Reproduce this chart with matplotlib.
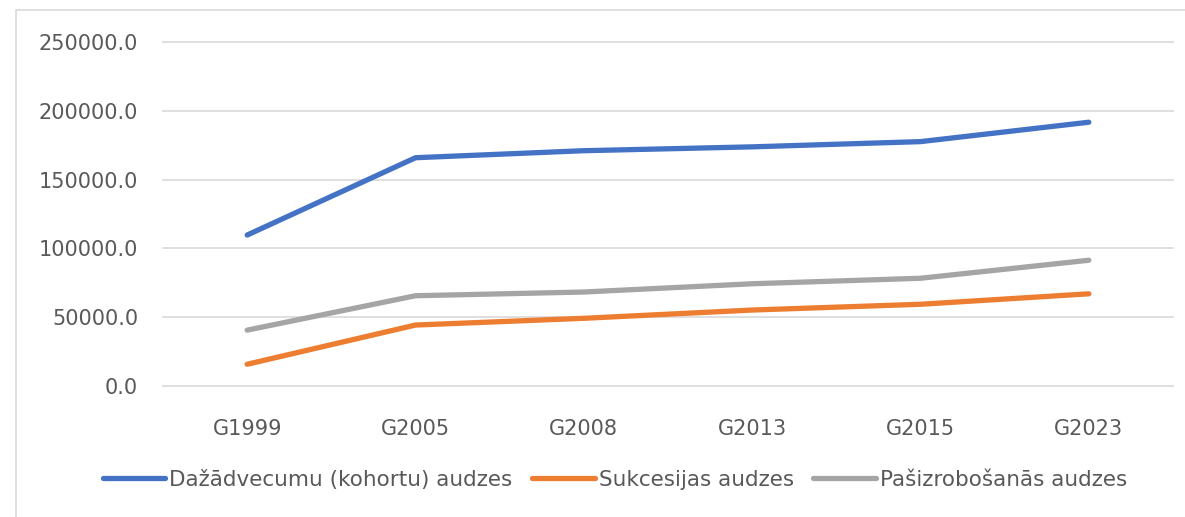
import matplotlib
matplotlib.use("Agg")
import matplotlib.pyplot as plt
from matplotlib.lines import Line2D
from matplotlib.ticker import FormatStrFormatter

# data
years = ["G1999", "G2005", "G2008", "G2013", "G2015", "G2023"]
dazadvecumu = [109700, 165900, 171000, 173800, 177600, 191700]
sukcesijas = [15800, 44300, 49200, 55200, 59400, 67000]
pasizrobosanas = [40600, 65600, 68300, 74300, 78300, 91400]

series = [
    ("Dažādvecumu (kohortu) audzes", dazadvecumu, "#4472C4"),
    ("Sukcesijas audzes", sukcesijas, "#ED7D31"),
    ("Pašizrobošanās audzes", pasizrobosanas, "#A5A5A5"),
]

txt = "#595959"
plt.rcParams["font.family"] = ["DejaVu Sans"]

fig = plt.figure(figsize=(11.85, 5.17), dpi=100)
ax = fig.add_axes([163 / 1185, 1 - 386 / 517, 1010 / 1185, 344 / 517])

x = list(range(len(years)))
for name, vals, col in series:
    ax.plot(x, vals, color=col, lw=3.8, solid_capstyle="round",
            solid_joinstyle="round", label=name, zorder=3)

ax.set_xlim(-0.5, len(years) - 0.5)
ax.set_ylim(0, 250000)
ax.set_yticks(range(0, 250001, 50000))
ax.yaxis.set_major_formatter(FormatStrFormatter("%.1f"))
ax.set_xticks(x)
ax.set_xticklabels(years)
ax.grid(axis="y", color="#D9D9D9", lw=1.2)
for gl in ax.get_ygridlines():
    gl.set_clip_on(False)
ax.set_axisbelow(True)
for s in ax.spines.values():
    s.set_visible(False)
ax.tick_params(axis="y", length=0, pad=18, labelsize=15, labelcolor=txt)
ax.tick_params(axis="x", length=0, pad=24, labelsize=15, labelcolor=txt)

fig.legend(loc="center", bbox_to_anchor=(615 / 1185, 1 - 480 / 517), ncol=3,
           frameon=False, fontsize=15.5, labelcolor=txt, handlelength=2.9,
           handletextpad=0.2, columnspacing=0.9)

# light chart frame at the top and left
bx, by = 16 / 1185, 1 - 10 / 517
fig.add_artist(Line2D([bx, bx, 1], [0, by, by], transform=fig.transFigure,
                      color="#D9D9D9", lw=1.2))

fig.savefig("out.png", dpi=100)
